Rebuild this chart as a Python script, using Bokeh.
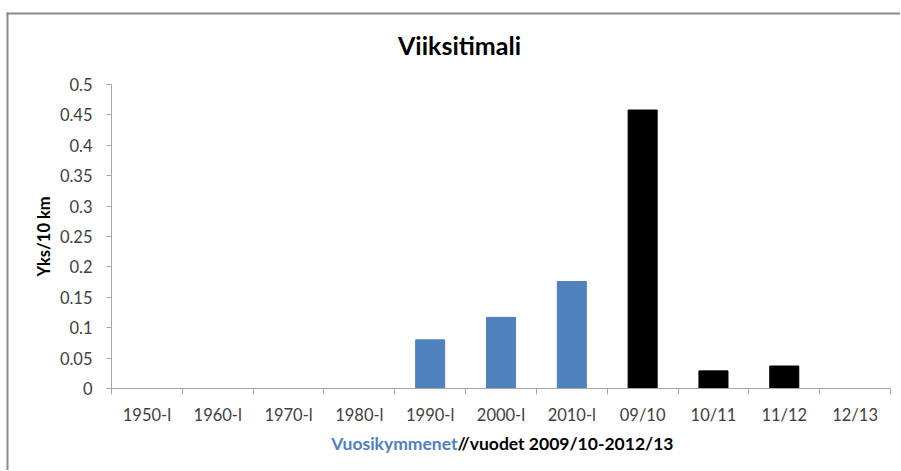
import numpy as np
from bokeh.plotting import figure
from bokeh.models import Range1d, FixedTicker, NumeralTickFormatter, Label, BoxAnnotation
from bokeh.embed import file_html
from bokeh.resources import INLINE

categories = ["1950-l", "1960-l", "1970-l", "1980-l", "1990-l", "2000-l",
              "2010-l", "09/10", "10/11", "11/12", "12/13"]
values = [0, 0, 0, 0, 0.080, 0.117, 0.176, 0.458, 0.029, 0.037, 0]
bar_colors = ["#4F81BD"] * 7 + ["#000000"] * 4
y_ticks = [0, 0.05, 0.1, 0.15, 0.2, 0.25, 0.3, 0.35, 0.4, 0.45, 0.5]
title_text = "Viiksitimali"
y_label = "Yks/10 km"
x_label_part1 = "Vuosikymmenet"
x_label_part2 = "//vuodet 2009/10-2012/13"

FONT = "Lato"
TICK_COLOR = "#404040"
AXIS_COLOR = "#a6a6a6"
n = len(categories)
xc = [i + 0.5 for i in range(n)]
W, H = 900, 470
# plot area in page pixels
PL, PR, PT, PB = 111, 890, 84, 388
YMAX = 0.5
xs = (PR - PL) / n          # px per category
ys = (PB - PT) / YMAX       # px per unit

p = figure(width=W, height=H, output_backend="svg", toolbar_location=None,
           x_range=Range1d(-PL / xs, (W - PL) / xs),
           y_range=Range1d(-(H - PB) / ys, PB / ys),
           min_border=0)
p.outline_line_color = None
p.xgrid.visible = False
p.ygrid.visible = False
p.background_fill_color = "white"
p.border_fill_color = "white"

p.vbar(x=xc, top=values, width=0.41, fill_color=bar_colors, line_color=bar_colors)

# x axis
xa = p.xaxis[0]
xa.fixed_location = 0
xa.bounds = (0, n)
xa.ticker = FixedTicker(ticks=xc, minor_ticks=list(range(n + 1)))
xa.major_label_overrides = {xc[i]: categories[i] for i in range(n)}
xa.major_tick_line_color = None
xa.major_tick_out = 0
xa.major_tick_in = 0
xa.minor_tick_line_color = AXIS_COLOR
xa.minor_tick_out = 6
xa.minor_tick_in = 0
xa.axis_line_color = AXIS_COLOR
xa.major_label_text_font = FONT
xa.major_label_text_font_size = "16.5px"
xa.major_label_text_color = TICK_COLOR
xa.major_label_standoff = 10

# y axis
ya = p.yaxis[0]
ya.fixed_location = 0
ya.bounds = (0, YMAX)
ya.ticker = FixedTicker(ticks=y_ticks, minor_ticks=[])
ya.formatter = NumeralTickFormatter(format="0.[00]")
ya.major_tick_line_color = AXIS_COLOR
ya.major_tick_out = 5
ya.major_tick_in = 0
ya.minor_tick_line_color = None
ya.axis_line_color = AXIS_COLOR
ya.major_label_text_font = FONT
ya.major_label_text_font_size = "16.5px"
ya.major_label_text_color = TICK_COLOR
ya.major_label_standoff = 14
ya.axis_label = y_label
ya.axis_label_text_font = FONT
ya.axis_label_text_font_size = "16.5px"
ya.axis_label_text_font_style = "bold"
ya.axis_label_text_color = "#000000"
ya.axis_label_standoff = 3

# title
p.add_layout(Label(x=459, y=H - 44, x_units="screen", y_units="screen", text=title_text,
                   text_align="center", text_baseline="middle",
                   text_font=FONT, text_font_size="25px", text_font_style="bold", text_color="#000000"))
# x axis title (two colours)
p.add_layout(Label(x=457, y=H - 443, x_units="screen", y_units="screen", text=x_label_part1,
                   text_align="right", text_baseline="middle",
                   text_font=FONT, text_font_size="17.5px", text_font_style="bold", text_color="#4F81BD"))
p.add_layout(Label(x=457, y=H - 443, x_units="screen", y_units="screen", text=x_label_part2,
                   text_align="left", text_baseline="middle",
                   text_font=FONT, text_font_size="17.5px", text_font_style="bold", text_color="#000000"))

# outer chart border (top and left edges)
BORDER = "#8a8a8a"
p.add_layout(BoxAnnotation(left=6, right=W + 50, top=H - 12, bottom=H - 14,
                           left_units="screen", right_units="screen",
                           top_units="screen", bottom_units="screen",
                           fill_color=BORDER, fill_alpha=1, line_color=None))
p.add_layout(BoxAnnotation(left=6, right=8, top=H - 12, bottom=-50,
                           left_units="screen", right_units="screen",
                           top_units="screen", bottom_units="screen",
                           fill_color=BORDER, fill_alpha=1, line_color=None))

open("out.html", "w").write(file_html(p, INLINE))
